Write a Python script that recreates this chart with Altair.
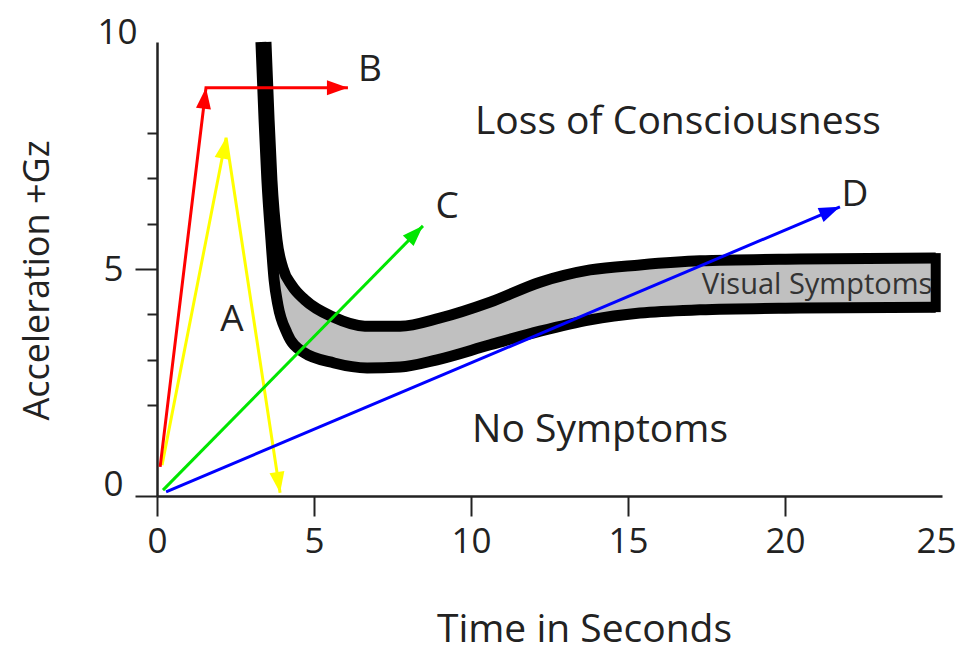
import math
import altair as alt
import pandas as pd

# ---------------- data ----------------
X_MAX = 25
Y_MAX = 10

# upper boundary of the black band (onset of loss of consciousness)
upper_x = [3.47, 3.57, 3.66, 3.82, 4.01, 4.30, 4.71, 5.61, 6.62, 7.74, 9.01, 10.61, 12.20, 13.79, 15.38, 17.29, 20.48, 24.80]
upper_y = [10.0, 8.28, 6.96, 5.64, 5.02, 4.63, 4.32, 3.94, 3.74, 3.74, 3.92, 4.27, 4.71, 4.98, 5.09, 5.18, 5.22, 5.24]

# lower boundary of the black band (onset of visual symptoms)
lower_x = [3.31, 3.41, 3.50, 3.63, 3.73, 3.85, 4.14, 4.65, 5.64, 6.69, 7.74, 8.92, 10.61, 12.20, 13.79, 15.38, 17.29, 20.48, 24.80]
lower_y = [10.0, 8.28, 6.96, 5.64, 4.76, 4.21, 3.59, 3.17, 2.93, 2.82, 2.84, 3.00, 3.33, 3.63, 3.88, 4.03, 4.10, 4.14, 4.16]

# gray "visual symptoms" zone between the two boundaries
gray_x = [3.85, 4.00, 4.14, 4.30, 4.65, 5.61, 6.62, 7.74, 9.00, 10.61, 12.20, 13.79, 15.38, 17.29, 20.48, 24.80]
gray_lo = [4.21, 3.90, 3.59, 3.40, 3.17, 2.93, 2.82, 2.84, 3.00, 3.33, 3.63, 3.88, 4.03, 4.10, 4.14, 4.16]
gray_hi = [5.55, 5.03, 4.80, 4.63, 4.35, 3.94, 3.74, 3.74, 3.92, 4.27, 4.71, 4.98, 5.09, 5.18, 5.22, 5.24]

# acceleration profiles (arrows)
arrow_names = ["A", "B", "C", "D"]
arrow_colors = ["#ffff00", "#ff0000", "#00e600", "#0000ff"]
arrow_x = {
    "A": [0.16, 2.20, 3.92],
    "B": [0.10, 1.56, 6.08],
    "C": [0.19, 8.47],
    "D": [0.29, 21.75],
}
arrow_y = {
    "A": [0.68, 7.89, 0.07],
    "B": [0.64, 8.99, 8.99],
    "C": [0.13, 5.95],
    "D": [0.09, 6.37],
}
# vertices that carry an arrowhead
arrow_heads = {"A": [1, 2], "B": [1, 2], "C": [1], "D": [1]}

# text annotations
zone_labels = ["Loss of Consciousness", "No Symptoms"]
zone_x = [16.59, 14.11]
zone_y = [8.24, 1.45]

band_label = ["Visual Symptoms"]
band_x = [21.02]
band_y = [4.65]

letter_labels = ["A", "B", "C", "D"]
letter_x = [2.39, 6.78, 9.24, 22.23]
letter_y = [3.88, 9.38, 6.37, 6.63]

x_ticks = [0, 5, 10, 15, 20, 25]
y_ticks = [0, 2, 3, 4, 5, 6, 7, 8, 10]

# ---------------- layout ----------------
W, H = 785, 454
FONT = "Open Sans"
INK = "#222222"

band_df = pd.DataFrame(
    {"x": upper_x + lower_x,
     "y": upper_y + lower_y,
     "curve": ["upper"] * len(upper_x) + ["lower"] * len(lower_x)}
)
gray_df = pd.DataFrame({"x": gray_x, "lo": gray_lo, "hi": gray_hi})
cap_df = pd.DataFrame({"x": [upper_x[-1]], "lo": [lower_y[-1]], "hi": [upper_y[-1]]})

rows, heads = [], []
for name in arrow_names:
    xs_, ys_ = arrow_x[name], arrow_y[name]
    for i, (xv, yv) in enumerate(zip(xs_, ys_)):
        rows.append({"arrow": name, "order": i, "x": xv, "y": yv})
    for i in arrow_heads[name]:
        dxp = (xs_[i] - xs_[i - 1]) * W / X_MAX
        dyp = (ys_[i] - ys_[i - 1]) * H / Y_MAX
        ang = math.degrees(math.atan2(dxp, dyp)) % 360
        heads.append({"arrow": name, "x": xs_[i], "y": ys_[i], "angle": ang})
arrow_df = pd.DataFrame(rows)
head_df = pd.DataFrame(heads)

zone_df = pd.DataFrame({"t": zone_labels, "x": zone_x, "y": zone_y})
bandlab_df = pd.DataFrame({"t": band_label, "x": band_x, "y": band_y})
letter_df = pd.DataFrame({"t": letter_labels, "x": letter_x, "y": letter_y})

xscale = alt.Scale(domain=[0, X_MAX], nice=False)
yscale = alt.Scale(domain=[0, Y_MAX], nice=False)

x_axis = alt.Axis(
    values=x_ticks,
    title="Time in Seconds",
    tickSize={"condition": {"test": "datum.value == 25", "value": 0}, "value": 20},
    labelOffset={"condition": {"test": "datum.value == 25", "value": -6}, "value": 0},
    labelPadding={"condition": {"test": "datum.value == 25", "value": 28}, "value": 8},
    labelFontSize=35,
    titleFontSize=39,
    titleX=427,
    titleY=133,
    titleAlign="center",
    titleBaseline="middle",
    labelFlush=False,
)
y_axis = alt.Axis(
    values=y_ticks,
    title="Acceleration +Gz",
    labelExpr="(datum.value == 0 || datum.value == 5 || datum.value == 10) ? datum.label : ''",
    tickSize={
        "condition": [
            {"test": "datum.value == 10", "value": 0},
            {"test": "datum.value == 0 || datum.value == 5", "value": 22},
        ],
        "value": 10,
    },
    labelOffset={
        "condition": [
            {"test": "datum.value == 5", "value": 0},
            {"test": "datum.value == 10", "value": -10},
        ],
        "value": -12,
    },
    labelPadding={"condition": {"test": "datum.value == 10", "value": 20}, "value": 12},
    labelFontSize=35,
    titleFontSize=36,
    titleX=-120,
    titleY=238,
    titleAlign="center",
    titleBaseline="middle",
    labelFlush=False,
)


def X(field="x"):
    return alt.X(f"{field}:Q", scale=xscale, axis=x_axis)


def Y(field="y"):
    return alt.Y(f"{field}:Q", scale=yscale, axis=y_axis)


gray = alt.Chart(gray_df).mark_area(color="#c0c0c0", interpolate="monotone").encode(
    x=X(), y=Y("lo"), y2="hi:Q"
)

band = alt.Chart(band_df).mark_line(
    color="black", strokeWidth=11, interpolate="monotone", strokeCap="butt"
).encode(x=X(), y=Y(), detail="curve:N")

cap = alt.Chart(cap_df).mark_rule(color="black", strokeWidth=10, strokeCap="square").encode(
    x=X(), y=Y("lo"), y2="hi:Q"
)

bandlab = alt.Chart(bandlab_df).mark_text(
    font=FONT, fontSize=29, color="#333333", align="center", baseline="middle"
).encode(x=X(), y=Y(), text="t:N")

color_scale = alt.Scale(domain=arrow_names, range=arrow_colors)

arrows = alt.Chart(arrow_df).mark_line(strokeWidth=3).encode(
    x=X(), y=Y(), color=alt.Color("arrow:N", scale=color_scale, legend=None),
    order="order:Q", detail="arrow:N"
)

heads_layer = alt.Chart(head_df).mark_point(
    shape="M0,0L0.5,1.4L-0.5,1.4Z", size=900, filled=True, opacity=1, strokeWidth=0
).encode(
    x=X(), y=Y(), angle=alt.Angle("angle:Q", scale=None),
    color=alt.Color("arrow:N", scale=color_scale, legend=None),
)

zones = alt.Chart(zone_df).mark_text(
    font=FONT, fontSize=39, color=INK, align="center", baseline="middle"
).encode(x=X(), y=Y(), text="t:N")

letters = alt.Chart(letter_df).mark_text(
    font=FONT, fontSize=37, color=INK, align="center", baseline="middle"
).encode(x=X(), y=Y(), text="t:N")

chart = alt.layer(gray, band, cap, bandlab, arrows, heads_layer, zones, letters).properties(
    width=W, height=H,
    autosize=alt.AutoSizeParams(type="none"),
    padding={"left": 149, "top": 34, "right": 16, "bottom": 156},
    background="white",
).configure_view(stroke=None).configure_axis(
    domainColor=INK, domainWidth=2.5, tickColor=INK, tickWidth=2,
    labelFont=FONT, labelColor=INK, titleFont=FONT, titleColor=INK,
    titleFontWeight="normal", grid=False,
)

chart.save("out.html", embed_options={"renderer": "svg", "actions": False})
